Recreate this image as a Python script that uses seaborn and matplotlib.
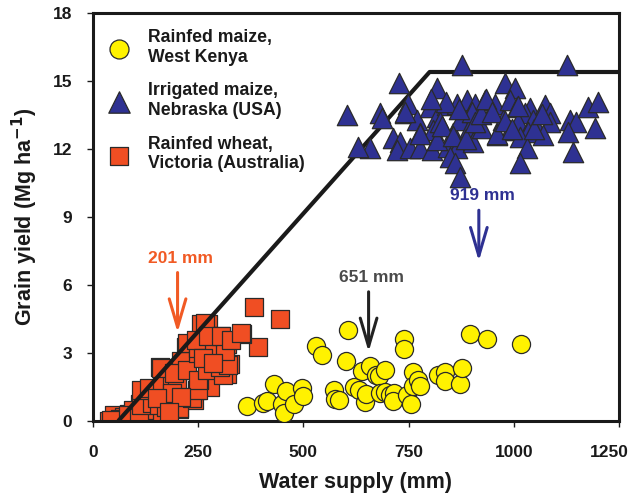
import pandas as pd
import matplotlib
matplotlib.use('Agg')
import matplotlib.pyplot as plt
import matplotlib.transforms as mtransforms
import seaborn as sns

# Rainfed maize, West Kenya (water supply mm, yield Mg/ha)
kenya_x = [366, 405, 414, 430, 449, 453, 458, 478, 497, 500, 530, 545, 572, 574, 585,
           602, 607, 620, 633, 640, 646, 648, 658, 672, 679, 694, 682, 694, 705, 716,
           714, 739, 739, 746, 755, 760, 760, 772, 777, 821, 836, 836, 872, 878, 895,
           937, 1018]
kenya_y = [0.66, 0.79, 0.87, 1.63, 0.76, 0.35, 1.32, 0.73, 1.47, 1.09, 3.30, 2.93, 1.38,
           0.98, 0.94, 2.64, 4.02, 1.50, 1.39, 2.20, 0.84, 1.20, 2.41, 2.04, 1.98, 2.26,
           1.23, 1.28, 1.13, 1.23, 0.87, 3.62, 3.18, 1.16, 0.73, 2.16, 1.53, 1.79, 1.53,
           2.05, 2.16, 1.75, 1.64, 2.35, 3.84, 3.62, 3.40]

# Irrigated maize, Nebraska (USA)
nebraska_x = [603, 727, 876, 817, 749, 741, 682, 686, 769, 801, 817, 841, 864, 888, 777,
              809, 856, 872, 714, 730, 722, 658, 630, 753, 777, 805, 844, 864, 848, 860,
              872, 825, 817, 896, 904,
              1126, 979, 1003, 932, 955, 991, 908, 1007, 1038, 1074, 1027, 1086, 920, 975,
              1011, 1046, 1086, 924, 991, 1034, 959, 1015, 1070, 1134, 1149, 1130, 1177,
              1201, 1193, 1141, 1031, 1015,
              830, 856, 887, 900, 909, 922, 935, 948, 961, 979, 997, 1009, 839, 869, 778,
              804, 742, 1048, 1066]
nebraska_y = [13.50, 14.90, 15.70, 14.68, 14.01, 13.57, 13.57, 13.35, 13.28, 13.86, 13.42,
              13.94, 14.01, 14.16, 12.69, 12.84, 12.69, 13.28, 12.47, 12.32, 11.95, 12.03,
              12.10, 12.03, 12.03, 11.95, 12.10, 12.03, 11.66, 11.37, 10.78, 13.20, 12.40,
              12.98, 12.32,
              15.70, 14.90, 14.68, 14.16, 14.01, 14.16, 14.01, 13.86, 13.79, 13.94, 13.57,
              13.57, 13.57, 13.28, 13.20, 13.28, 13.20, 12.91, 12.84, 12.76, 12.62, 12.51,
              12.62, 13.28, 13.20, 12.76, 13.86, 14.09, 12.91, 11.88, 12.03, 11.37,
              13.03, 12.59, 12.44, 13.62, 13.18, 13.54, 14.21, 13.62, 12.66, 13.25, 12.88,
              13.91, 14.06, 13.76, 12.66, 14.21, 13.62, 12.88, 13.54]

# Rainfed wheat, Victoria (Australia)
victoria_x = [383, 445, 392, 353, 38, 51, 73, 103, 86, 121, 134, 147, 169, 130, 156, 160,
              182, 195, 204, 221, 221, 239, 247, 250, 256, 274, 269, 278, 300, 304, 318,
              313, 326, 318, 278, 252, 226, 208, 173, 140, 112, 94, 64,
              44, 83, 110, 114, 141, 165, 157, 173, 114, 134, 165, 188, 200, 204, 235,
              250, 161, 192, 223, 250, 270, 309, 301, 320, 223, 250, 250, 278, 313, 246,
              266, 274, 305, 328, 351, 262, 285, 188, 208, 153, 180]
victoria_y = [5.02, 4.50, 3.26, 3.84, 0.00, 0.25, 0.18, 0.03, 0.32, 0.32, 0.69, 0.47, 0.21,
              1.20, 1.06, 2.38, 1.94, 1.64, 0.54, 2.23, 3.26, 0.91, 1.35, 2.96, 4.28, 4.28,
              3.11, 2.38, 2.16, 3.77, 2.08, 3.04, 2.52, 3.40, 1.50, 1.79, 2.82, 2.67, 1.50,
              0.91, 0.76, 0.47, 0.10,
              0.04, 0.27, 0.12, 0.71, 0.78, 0.19, 0.71, 0.63, 1.37, 1.45, 1.74, 1.59, 1.67,
              0.56, 1.00, 1.37, 2.33, 2.11, 2.26, 1.81, 2.26, 2.04, 2.40, 2.48, 3.44, 3.00,
              3.22, 3.14, 3.07, 3.58, 4.32, 3.73, 3.73, 3.58, 3.88, 2.77, 2.55, 1.22, 1.08,
              1.00, 0.41]

# water-limited yield frontier
frontier_x = [60, 800, 1250]
frontier_y = [0, 15.4, 15.4]

# median water supply arrows
arrow_labels = ['201 mm', '651 mm', '919 mm']
arrow_x = [201, 655, 917]
arrow_top = [6.55, 5.7, 9.3]
arrow_tip = [3.9, 3.05, 7.05]

kenya = pd.DataFrame({'water': kenya_x, 'yield': kenya_y})
nebraska = pd.DataFrame({'water': nebraska_x, 'yield': nebraska_y})
victoria = pd.DataFrame({'water': victoria_x, 'yield': victoria_y})

sns.set_style('white')
plt.rcParams['font.family'] = ['Liberation Sans', 'DejaVu Sans']
plt.rcParams['font.weight'] = 'bold'

fig = plt.figure(figsize=(6.36, 5.03), dpi=100)
ax = fig.add_axes([0.1462, 0.163, 0.827, 0.811])

edge = '#2a2a2a'
sns.scatterplot(data=victoria, x='water', y='yield', marker='s', s=150, color='#f04e23',
                edgecolor=edge, linewidth=0.9, ax=ax, zorder=2, label='Rainfed wheat,\nVictoria (Australia)')
ax.plot(frontier_x, frontier_y, color='#1a1a1a', lw=3.0, zorder=3, solid_capstyle='butt')
sns.scatterplot(data=kenya, x='water', y='yield', marker='o', s=170, color='#fff200',
                edgecolor=edge, linewidth=0.9, ax=ax, zorder=4, label='Rainfed maize,\nWest Kenya')
sns.scatterplot(data=nebraska, x='water', y='yield', marker='^', s=215, color='#2e3192',
                edgecolor=edge, linewidth=0.9, ax=ax, zorder=5, label='Irrigated maize,\nNebraska (USA)')

colors = ['#f15a24', '#222222', '#2e3192']
text_colors = ['#f15a24', '#4a4a4a', '#2e3192']
for lab, xv, top, tip, c, tc in zip(arrow_labels, arrow_x, arrow_top, arrow_tip, colors, text_colors):
    ax.annotate('', xy=(xv, tip), xytext=(xv, top),
                arrowprops=dict(arrowstyle='->,head_length=1.7,head_width=0.5', lw=2.2,
                                color=c, shrinkA=0, shrinkB=0, mutation_scale=12), zorder=6)
    ax.text(xv + 8, top + 0.3, lab, color=tc, fontsize=12.5, fontweight='bold',
            ha='center', va='bottom', zorder=6)

ax.set_xlim(0, 1250)
ax.set_ylim(0, 18)
ax.set_xticks([0, 250, 500, 750, 1000, 1250])
ax.set_yticks([0, 3, 6, 9, 12, 15, 18])
ax.tick_params(axis='both', direction='out', length=4, width=1, colors='#1a1a1a',
               labelsize=12.5, labelcolor='#1a1a1a')
ax.tick_params(axis='x', pad=13, bottom=True)
ax.tick_params(axis='y', pad=11, left=True)
for lbl in ax.get_xticklabels() + ax.get_yticklabels():
    lbl.set_fontweight('bold')
# nudge the last x label left so it stays inside the figure
last = ax.get_xticklabels()[-1]
last.set_transform(last.get_transform() + mtransforms.ScaledTranslation(-7 / 72, 0, fig.dpi_scale_trans))
for sp in ax.spines.values():
    sp.set_color('#1a1a1a')
    sp.set_linewidth(2.2)

ax.set_xlabel('Water supply (mm)', fontsize=15.5, fontweight='bold', color='#1a1a1a', labelpad=9)
ax.set_ylabel('Grain yield (Mg ha$^{\\mathbf{-1}}$)', fontsize=15.5, fontweight='bold',
              color='#1a1a1a', labelpad=9)

handles, labels = ax.get_legend_handles_labels()
order = [1, 2, 0]
leg = ax.legend([handles[i] for i in order], [labels[i] for i in order], loc='upper left',
                frameon=False, handletextpad=1.0, labelspacing=0.95, markerscale=1.05,
                borderaxespad=0.6, borderpad=0.3, handlelength=1.2,
                prop={'weight': 'bold', 'size': 12.7})
for t in leg.get_texts():
    t.set_color('#1a1a1a')

fig.savefig('out.png', dpi=100)
